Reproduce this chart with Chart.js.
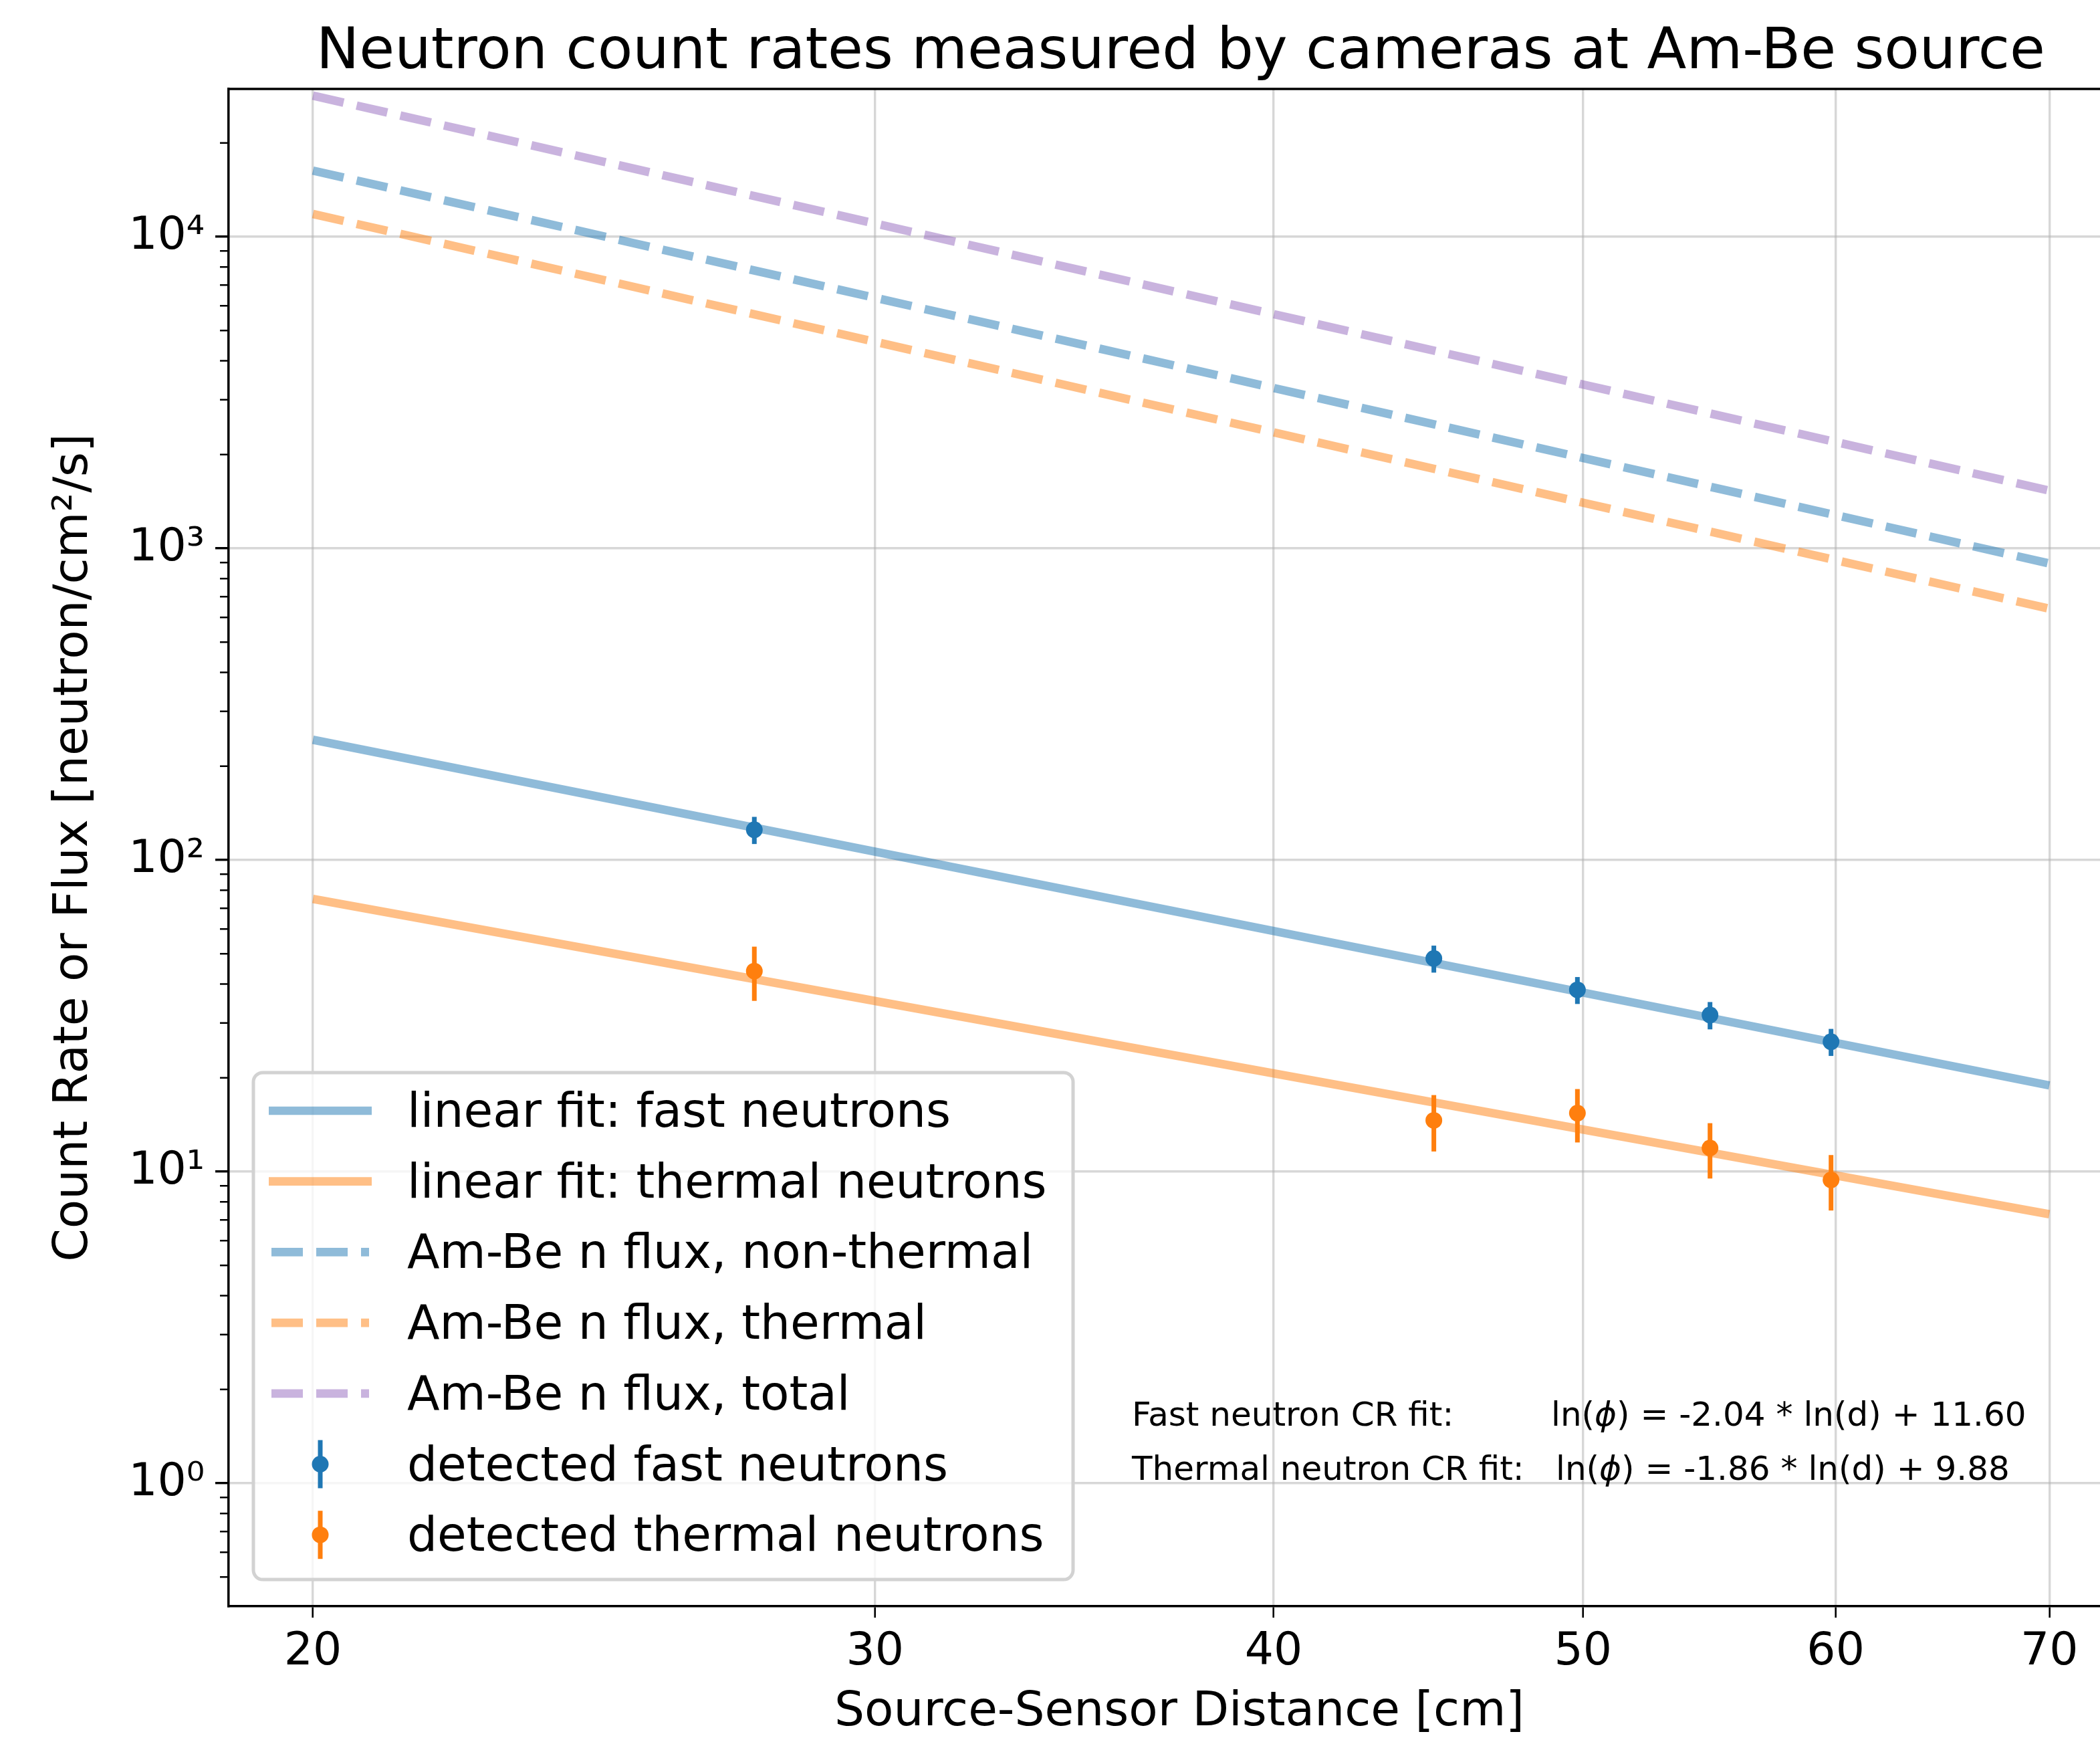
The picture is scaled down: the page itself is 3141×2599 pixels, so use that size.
<!DOCTYPE html>
<html>
<head>
<meta charset="utf-8">
<script src="https://cdn.jsdelivr.net/npm/chart.js@4.4.1/dist/chart.umd.min.js"></script>
<style>
  html, body { margin: 0; padding: 0; background: #fff; }
  #wrap { width: 3141px; height: 2599px; overflow: hidden; position: relative; }
</style>
</head>
<body>
<div id="wrap"><canvas id="chart" width="3190" height="2599"></canvas></div>
<script>
// fit lines and source flux curves (end points)
const fitDistance = [20, 70];
const fastFit = [243, 18.9];
const thermalFit = [75, 7.3];
const fluxNonThermal = [16300, 894];
const fluxThermal = [11830, 640];
const fluxTotal = [28360, 1532];

// measured count rates
const distance = [27.5, 44.9, 49.8, 54.8, 59.8];
const fastRate = [125, 48.3, 38.3, 31.8, 26.1];
const fastErr = [12.5, 4.8, 3.8, 3.2, 2.6];
const thermalRate = [44.0, 14.6, 15.4, 11.9, 9.4];
const thermalErr = [8.7, 3.0, 3.0, 2.4, 1.9];

const xTicks = [20, 30, 40, 50, 60, 70];
const xTickLabels = ['20', '30', '40', '50', '60', '70'];
const yTicks = [1, 10, 100, 1000, 10000];
const yTickLabels = ['10⁰', '10¹', '10²', '10³', '10⁴'];

const FONT = 'DejaVu Sans';
const BLUE = '#1f77b4';
const ORANGE = '#ff7f0e';

const pts = (xs, ys) => xs.map((x, i) => ({ x: x, y: ys[i] }));

function lineSet(label, ys, color, dash, order) {
  return {
    label: label,
    data: pts(fitDistance, ys),
    showLine: true,
    borderColor: color,
    borderWidth: 12.7,
    borderDash: dash,
    borderCapStyle: 'butt',
    pointRadius: 0,
    fill: false,
    order: order
  };
}

function pointSet(label, ys, errs, color) {
  return {
    label: label,
    data: pts(distance, ys),
    yErr: errs,
    showLine: false,
    backgroundColor: color,
    pointBackgroundColor: color,
    pointBorderWidth: 0,
    pointRadius: 12.5,
    order: 0
  };
}

function roundRect(ctx, x, y, w, h, r) {
  ctx.beginPath();
  ctx.moveTo(x + r, y);
  ctx.arcTo(x + w, y, x + w, y + h, r);
  ctx.arcTo(x + w, y + h, x, y + h, r);
  ctx.arcTo(x, y + h, x, y, r);
  ctx.arcTo(x, y, x + w, y, r);
  ctx.closePath();
}

// "ln(ϕ) = ..." with an oblique phi, like matplotlib mathtext
function formula(ctx, x, y, rest) {
  const up = '50px "' + FONT + '"';
  ctx.font = up;
  ctx.fillText('ln(', x, y);
  x += ctx.measureText('ln(').width;
  ctx.font = 'italic 50px "' + FONT + '"';
  ctx.fillText('ϕ', x, y);
  x += ctx.measureText('ϕ').width;
  ctx.font = up;
  ctx.fillText(')' + rest, x, y);
}

const errorBars = {
  id: 'errorBars',
  beforeDatasetDraw(chart, args) {
    const ds = chart.data.datasets[args.index];
    if (!ds.yErr) return;
    const { ctx, scales: { x, y } } = chart;
    ctx.save();
    ctx.strokeStyle = ds.backgroundColor;
    ctx.lineWidth = 7;
    ds.data.forEach((p, i) => {
      const px = x.getPixelForValue(p.x);
      ctx.beginPath();
      ctx.moveTo(px, y.getPixelForValue(p.y - ds.yErr[i]));
      ctx.lineTo(px, y.getPixelForValue(p.y + ds.yErr[i]));
      ctx.stroke();
    });
    ctx.restore();
  }
};

const frame = {
  id: 'frame',
  afterDraw(chart) {
    const { ctx, chartArea: a, scales: { y } } = chart;
    ctx.save();
    // top and right spines
    ctx.strokeStyle = '#000';
    ctx.lineWidth = 3.5;
    ctx.beginPath();
    ctx.moveTo(a.left - 1.75, a.top);
    ctx.lineTo(a.right, a.top);
    ctx.lineTo(a.right, a.bottom);
    ctx.stroke();
    // minor ticks on the log y axis
    ctx.lineWidth = 2.5;
    ctx.beginPath();
    for (let d = -1; d <= 4; d++) {
      for (let m = 2; m <= 9; m++) {
        const v = m * Math.pow(10, d);
        if (v < y.min || v > y.max) continue;
        const py = y.getPixelForValue(v);
        ctx.moveTo(a.left - 13, py);
        ctx.lineTo(a.left, py);
      }
    }
    ctx.stroke();

    // title
    ctx.fillStyle = '#000';
    ctx.textAlign = 'center';
    ctx.textBaseline = 'alphabetic';
    ctx.font = '86px "' + FONT + '"';
    ctx.fillText('Neutron count rates measured by cameras at Am-Be source', 1766, 102);

    // fit equations
    ctx.textAlign = 'left';
    ctx.font = '50px "' + FONT + '"';
    ctx.fillText('Fast neutron CR fit:', 1693, 2132);
    ctx.fillText('Thermal neutron CR fit:', 1693, 2213);
    formula(ctx, 2320, 2132, ' = -2.04 * ln(d) + 11.60');
    formula(ctx, 2327, 2213, ' = -1.86 * ln(d) + 9.88');

    // legend
    roundRect(ctx, 379, 1604, 1226, 758, 14);
    ctx.fillStyle = 'rgba(255,255,255,0.8)';
    ctx.fill();
    ctx.lineWidth = 5;
    ctx.strokeStyle = '#d2d2d2';
    ctx.stroke();
    ctx.font = '71px "' + FONT + '"';
    chart.data.datasets.forEach((ds, i) => {
      const cy = 1661 + i * 105.7;
      if (ds.yErr) {
        ctx.strokeStyle = ds.backgroundColor;
        ctx.lineWidth = 7;
        ctx.setLineDash([]);
        ctx.beginPath();
        ctx.moveTo(479, cy - 36);
        ctx.lineTo(479, cy + 36);
        ctx.stroke();
        ctx.fillStyle = ds.backgroundColor;
        ctx.beginPath();
        ctx.arc(479, cy, 12.5, 0, Math.PI * 2);
        ctx.fill();
      } else {
        const dashed = ds.borderDash.length > 0;
        ctx.strokeStyle = ds.borderColor;
        ctx.lineWidth = ds.borderWidth;
        ctx.lineCap = 'butt';
        ctx.setLineDash(ds.borderDash);
        ctx.beginPath();
        ctx.moveTo(dashed ? 406 : 402, cy);
        ctx.lineTo(dashed ? 552 : 556, cy);
        ctx.stroke();
        ctx.setLineDash([]);
      }
      ctx.fillStyle = '#000';
      ctx.fillText(ds.label, 609, cy + 24);
    });
    ctx.restore();
  }
};

const ctx = document.getElementById('chart').getContext('2d');

new Chart(ctx, {
  type: 'scatter',
  data: {
    datasets: [
      lineSet('linear fit: fast neutrons', fastFit, 'rgba(31,119,180,0.5)', [], 1),
      lineSet('linear fit: thermal neutrons', thermalFit, 'rgba(255,127,14,0.5)', [], 1),
      lineSet('Am-Be n flux, non-thermal', fluxNonThermal, 'rgba(31,119,180,0.5)', [47, 20], 2),
      lineSet('Am-Be n flux, thermal', fluxThermal, 'rgba(255,127,14,0.5)', [47, 20], 2),
      lineSet('Am-Be n flux, total', fluxTotal, 'rgba(148,103,189,0.5)', [47, 20], 2),
      pointSet('detected fast neutrons', fastRate, fastErr, BLUE),
      pointSet('detected thermal neutrons', thermalRate, thermalErr, ORANGE)
    ]
  },
  options: {
    responsive: false,
    maintainAspectRatio: false,
    animation: false,
    devicePixelRatio: 1,
    layout: { autoPadding: false, padding: { top: 133, right: 4, bottom: 0, left: 0 } },
    plugins: {
      legend: { display: false },
      tooltip: { enabled: false },
      title: { display: false }
    },
    scales: {
      x: {
        type: 'logarithmic',
        min: 18.82,
        max: 74.2,
        afterBuildTicks: s => { s.ticks = xTicks.map(v => ({ value: v })); },
        afterFit: s => { s.height = 197; },
        ticks: {
          callback: (v, i) => xTickLabels[i],
          font: { family: FONT, size: 68 },
          color: '#000',
          padding: 12,
          maxRotation: 0,
          autoSkip: false
        },
        grid: {
          color: 'rgba(176,176,176,0.5)',
          lineWidth: 3.4,
          tickColor: '#000',
          tickLength: 17,
          tickWidth: 2.6
        },
        border: { display: true, color: '#000', width: 3.5 },
        title: {
          display: true,
          text: 'Source-Sensor Distance [cm]',
          color: '#000',
          font: { family: FONT, size: 71, lineHeight: 1 },
          padding: { top: 0, bottom: 1.5 }
        }
      },
      y: {
        type: 'logarithmic',
        min: 0.4028,
        max: 29800,
        afterBuildTicks: s => { s.ticks = yTicks.map(v => ({ value: v })); },
        afterFit: s => { s.width = 342; },
        ticks: {
          callback: (v, i) => yTickLabels[i],
          font: { family: FONT, size: 68 },
          color: '#000',
          padding: 16,
          autoSkip: false
        },
        grid: {
          color: 'rgba(176,176,176,0.5)',
          lineWidth: 3.4,
          tickColor: '#000',
          tickLength: 20,
          tickWidth: 3.4
        },
        border: { display: true, color: '#000', width: 3.5 },
        title: {
          display: true,
          text: 'Count Rate or Flux [neutron/cm²/s]',
          color: '#000',
          font: { family: FONT, size: 71, lineHeight: 1 },
          padding: { top: 76.5, bottom: 0 }
        }
      }
    }
  },
  plugins: [errorBars, frame]
});
</script>
</body>
</html>
